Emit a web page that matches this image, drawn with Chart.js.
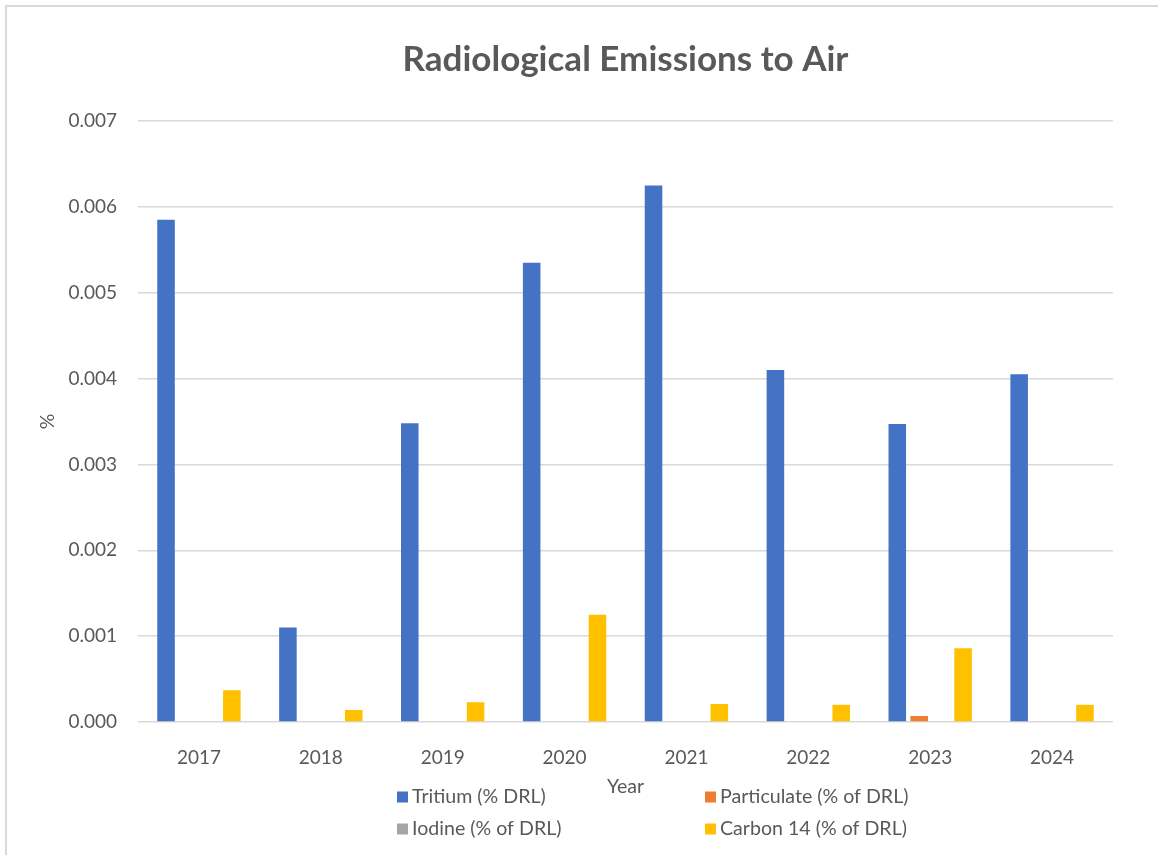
<!DOCTYPE html>
<html><head><meta charset="utf-8">
<script src="https://cdn.jsdelivr.net/npm/chart.js@4.4.1/dist/chart.umd.min.js"></script>
<style>html,body{margin:0;padding:0;background:#fff}#wrap{position:relative;width:1158px;height:855px}</style>
</head><body><div id="wrap"><canvas id="c"></canvas></div>
<script>
const years = ['2017','2018','2019','2020','2021','2022','2023','2024'];
const tritium = [0.00585, 0.0011, 0.00348, 0.00535, 0.00625, 0.0041, 0.00347, 0.00405];
const particulate = [0, 0, 0, 0, 0, 0, 0.00007, 0];
const iodine = [0, 0, 0, 0, 0, 0, 0, 0];
const carbon14 = [0.00037, 0.00014, 0.00023, 0.00125, 0.00021, 0.0002, 0.00086, 0.0002];
const seriesNames = ['Tritium (% DRL)', 'Particulate (% of DRL)', 'Iodine (% of DRL)', 'Carbon 14 (% of DRL)'];
const seriesColors = ['#4472C4', '#ED7D31', '#A5A5A5', '#FFC000'];

const FONT = 'Lato';
const TXT = '#595959';

const frame = {
  id: 'frame',
  beforeDraw(chart) {
    const ctx = chart.ctx;
    ctx.save();
    ctx.fillStyle = '#fff';
    ctx.fillRect(0, 0, chart.width, chart.height);
    ctx.strokeStyle = '#D9D9D9';
    ctx.lineWidth = 2;
    ctx.beginPath();
    ctx.moveTo(6, chart.height);
    ctx.lineTo(6, 6);
    ctx.lineTo(chart.width, 6);
    ctx.stroke();
    ctx.restore();
  }
};

const gridLegend = {
  id: 'gridLegend',
  afterDraw(chart) {
    const ctx = chart.ctx;
    const ds = chart.data.datasets;
    const cols = [397, 705];
    const rows = [797, 829];
    ctx.save();
    ctx.font = '19.6px ' + FONT;
    ctx.textBaseline = 'middle';
    ctx.textAlign = 'left';
    ds.forEach((d, i) => {
      const x = cols[i % 2], y = rows[Math.floor(i / 2)];
      ctx.fillStyle = d.backgroundColor;
      ctx.fillRect(x, y - 5.5, 11, 11);
      ctx.fillStyle = TXT;
      ctx.fillText(d.label, x + 15, y);
    });
    ctx.restore();
  }
};

const dataSeries = [tritium, particulate, iodine, carbon14];
new Chart(document.getElementById('c'), {
  type: 'bar',
  data: {
    labels: years,
    datasets: dataSeries.map((arr, i) => ({
      label: seriesNames[i],
      data: arr,
      backgroundColor: seriesColors[i],
      borderWidth: 0,
      barPercentage: 0.8,
      categoryPercentage: 0.72
    }))
  },
  options: {
    responsive: true,
    maintainAspectRatio: false,
    animation: false,
    layout: { padding: { left: 6, right: 45, top: 0, bottom: 0 } },
    plugins: {
      legend: { display: false },
      tooltip: { enabled: false },
      title: {
        display: true, text: 'Radiological Emissions to Air', fullSize: false,
        color: TXT, font: { family: FONT, size: 35, weight: 'bold' },
        padding: { top: 39, bottom: 40 }
      }
    },
    scales: {
      x: {
        grid: { display: false },
        border: { display: false },
        ticks: { color: TXT, font: { family: FONT, size: 19 }, padding: 16 },
        title: { display: true, text: 'Year', color: TXT, font: { family: FONT, size: 19.5 }, padding: { top: 0, bottom: 57 } },
        afterFit(s) { s.height = 133; }
      },
      y: {
        min: 0, max: 0.007,
        border: { display: false },
        grid: { color: '#D9D9D9', lineWidth: 1.5, drawTicks: false },
        ticks: { stepSize: 0.001, color: TXT, font: { family: FONT, size: 19 }, padding: 21, callback: v => v.toFixed(3) },
        title: { display: true, text: '%', color: TXT, font: { family: FONT, size: 19.5 }, padding: { top: 30, bottom: 0 } },
        afterFit(s) { s.width = 132; }
      }
    }
  },
  plugins: [frame, gridLegend]
});
</script></body></html>
